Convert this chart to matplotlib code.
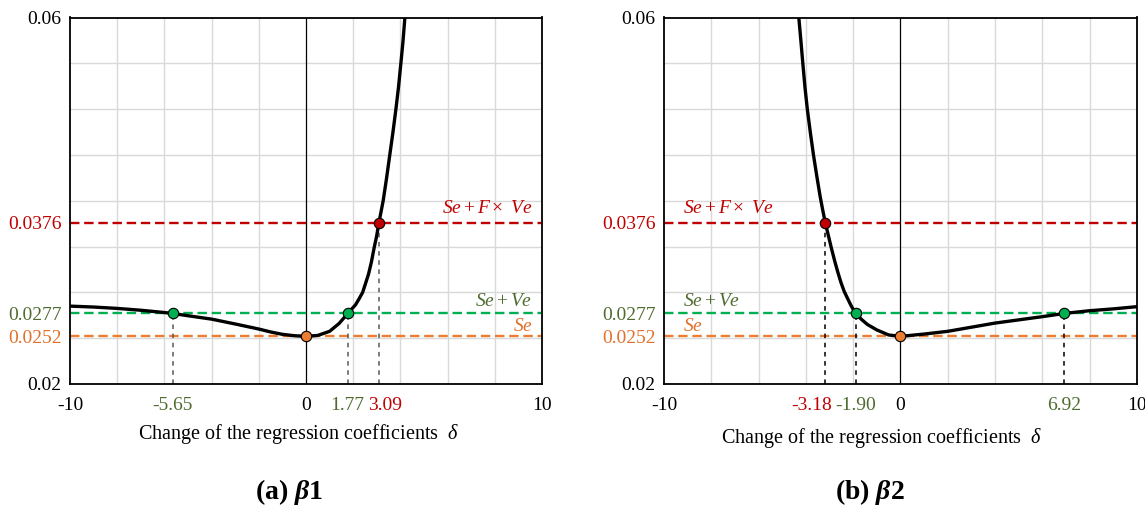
import numpy as np
import matplotlib
matplotlib.use("Agg")
import matplotlib.pyplot as plt
from matplotlib.ticker import MultipleLocator
from matplotlib.transforms import ScaledTranslation

plt.rcParams['font.family'] = ['Liberation Serif', 'DejaVu Serif']
plt.rcParams['mathtext.fontset'] = 'custom'
plt.rcParams['mathtext.rm'] = 'Liberation Serif'
plt.rcParams['mathtext.it'] = 'Liberation Serif:italic'
plt.rcParams['mathtext.bf'] = 'Liberation Serif:bold:italic'

# levels
se = 0.0252
se_ve = 0.0277
se_fve = 0.0376

# (a) beta1 curve
x1 = [-10, -9, -8, -7, -6, -5.65, -5, -4, -3, -2, -1.5, -1, -0.5, 0,
      0.5, 1.0, 1.4, 1.77, 2.1, 2.25, 2.4, 2.52, 2.65, 2.77, 2.89, 2.99, 3.09, 3.18,
      3.27, 3.41, 3.55, 3.68, 3.81, 3.92, 4.02, 4.11, 4.19]
y1 = [0.0285, 0.0284, 0.02825, 0.02805, 0.0278, 0.0277, 0.02745, 0.02708, 0.02655, 0.0260,
      0.02568, 0.02542, 0.02527, 0.0252, 0.0253, 0.02575, 0.0266, 0.0277, 0.02865, 0.0293,
      0.0300, 0.03095, 0.0320, 0.0333, 0.0349, 0.0361, 0.0376, 0.0388,
      0.0400, 0.0424, 0.0450, 0.0474, 0.0500, 0.0524, 0.0550, 0.0574, 0.0600]
cross1 = [-5.65, 1.77, 3.09]

# (b) beta2 curve
x2 = [-4.30, -4.21, -4.13, -4.04, -3.94, -3.81, -3.68, -3.54, -3.40, -3.29, -3.18, -3.05,
      -2.92, -2.78, -2.65, -2.52, -2.38, -2.1, -1.90, -1.65, -1.4, -1.0, -0.5, 0,
      1, 2, 3, 4, 5, 6, 6.92, 8, 9, 10]
y2 = [0.060, 0.0574, 0.055, 0.0524, 0.050, 0.0474, 0.045, 0.0427, 0.0405, 0.0390, 0.0376, 0.0362,
      0.0348, 0.0334, 0.0322, 0.0311, 0.0301, 0.0286, 0.0277, 0.02705, 0.0265, 0.0259, 0.02535, 0.0252,
      0.02545, 0.02575, 0.0262, 0.02665, 0.0270, 0.02735, 0.0277, 0.0280, 0.0282, 0.02844]
cross2 = [-3.18, -1.90, 6.92]

red = '#C00000'
green = '#00B050'
orange = '#ED7D31'
green_txt = '#4F6B2F'
orange_txt = '#E0702A'

fig = plt.figure(figsize=(11.45, 5.18), dpi=100)
ax1 = fig.add_axes([70 / 1145, 1 - 384 / 518, 472 / 1145, 366.5 / 518])
ax2 = fig.add_axes([664 / 1145, 1 - 384 / 518, 473 / 1145, 366.5 / 518])


def panel(ax, xs, ys, cross, vcol, label_side):
    ax.set_xlim(-10, 10)
    ax.set_ylim(0.02, 0.06)
    ax.xaxis.set_minor_locator(MultipleLocator(2))
    ax.yaxis.set_minor_locator(MultipleLocator(0.005))
    ax.grid(which='minor', color='#D9D9D9', lw=1.0, zorder=0)
    ax.tick_params(which='both', length=0)
    ax.tick_params(axis='x', pad=9, labelsize=14)
    ax.tick_params(axis='y', pad=6, labelsize=14)
    for s in ax.spines.values():
        s.set_linewidth(1.3)
        s.set_zorder(5)

    ax.axvline(0, color='black', lw=0.9, zorder=2)
    for yv, c in [(se_fve, red), (se_ve, green), (se, orange)]:
        ax.axhline(yv, color=c, lw=1.7, ls=(0, (4, 2)), zorder=3)

    # vertical drop lines
    levels = []
    for xc in cross:
        yc = ys[xs.index(xc)]
        levels.append(yc)
        ax.plot([xc, xc], [0.02, yc], color=vcol, lw=1.1, ls=(0, (3, 3)), zorder=3)

    ax.plot(xs, ys, color='black', lw=2.4, zorder=4, solid_capstyle='round',
            solid_joinstyle='round')

    for xc, yc in zip(cross, levels):
        fc = red if abs(yc - se_fve) < 1e-6 else green
        ax.plot(xc, yc, 'o', ms=7.5, mfc=fc, mec='black', mew=0.8, zorder=6, clip_on=False)
    ax.plot(0, se, 'o', ms=7.5, mfc=orange, mec='black', mew=0.8, zorder=6, clip_on=False)

    if label_side == 'right':
        lx, ha = 9.6, 'right'
    else:
        lx, ha = -9.2, 'left'
    ax.text(lx, se_fve + 0.0015, r'$Se + F\times\ Ve$', color=red, fontsize=14,
            ha=ha, va='center', zorder=7)
    ax.text(lx, se_ve + 0.0013, r'$Se + Ve$', color=green_txt, fontsize=14,
            ha=ha, va='center', zorder=7)
    ax.text(lx, se + 0.0011, r'$Se$', color=orange_txt, fontsize=14,
            ha=ha, va='center', zorder=7)

    yt = [0.02, se, se_ve, se_fve, 0.06]
    ax.set_yticks(yt)
    ax.set_yticklabels(['0.02', '0.0252', '0.0277', '0.0376', '0.06'])
    for lab, c in zip(ax.get_yticklabels(), ['black', orange_txt, green_txt, red, 'black']):
        lab.set_color(c)

    ax.set_xlabel(r'Change of the regression coefficients  $\delta$', fontsize=14.5)


panel(ax1, x1, y1, cross1, '#595959', 'right')
panel(ax2, x2, y2, cross2, 'black', 'left')
ax1.xaxis.set_label_coords(0.485, -0.105)
ax2.xaxis.set_label_coords(0.46, -0.115)

xt1 = [-10, -5.65, 0, 1.77, 3.09, 10]
ax1.set_xticks(xt1)
ax1.set_xticklabels(['-10', '-5.65', '0', '1.77', '3.09', '10'])
for lab, c in zip(ax1.get_xticklabels(), ['black', green_txt, 'black', green_txt, red, 'black']):
    lab.set_color(c)
lab = ax1.get_xticklabels()[4]
lab.set_transform(lab.get_transform() + ScaledTranslation(6 / 100, 0, fig.dpi_scale_trans))

xt2 = [-10, -3.18, -1.90, 0, 6.92, 10]
ax2.set_xticks(xt2)
ax2.set_xticklabels(['-10', '-3.18', '-1.90', '0', '6.92', '10'])
for lab, c in zip(ax2.get_xticklabels(), ['black', red, green_txt, 'black', green_txt, 'black']):
    lab.set_color(c)
lab = ax2.get_xticklabels()[1]
lab.set_transform(lab.get_transform() + ScaledTranslation(-14 / 100, 0, fig.dpi_scale_trans))

fig.text(0.252, 0.05, r'(a) $\mathbf{\beta}$1', fontsize=20, fontweight='bold',
         ha='center', va='center')
fig.text(0.760, 0.05, r'(b) $\mathbf{\beta}$2', fontsize=20, fontweight='bold',
         ha='center', va='center')

fig.savefig('out.png', dpi=100)
